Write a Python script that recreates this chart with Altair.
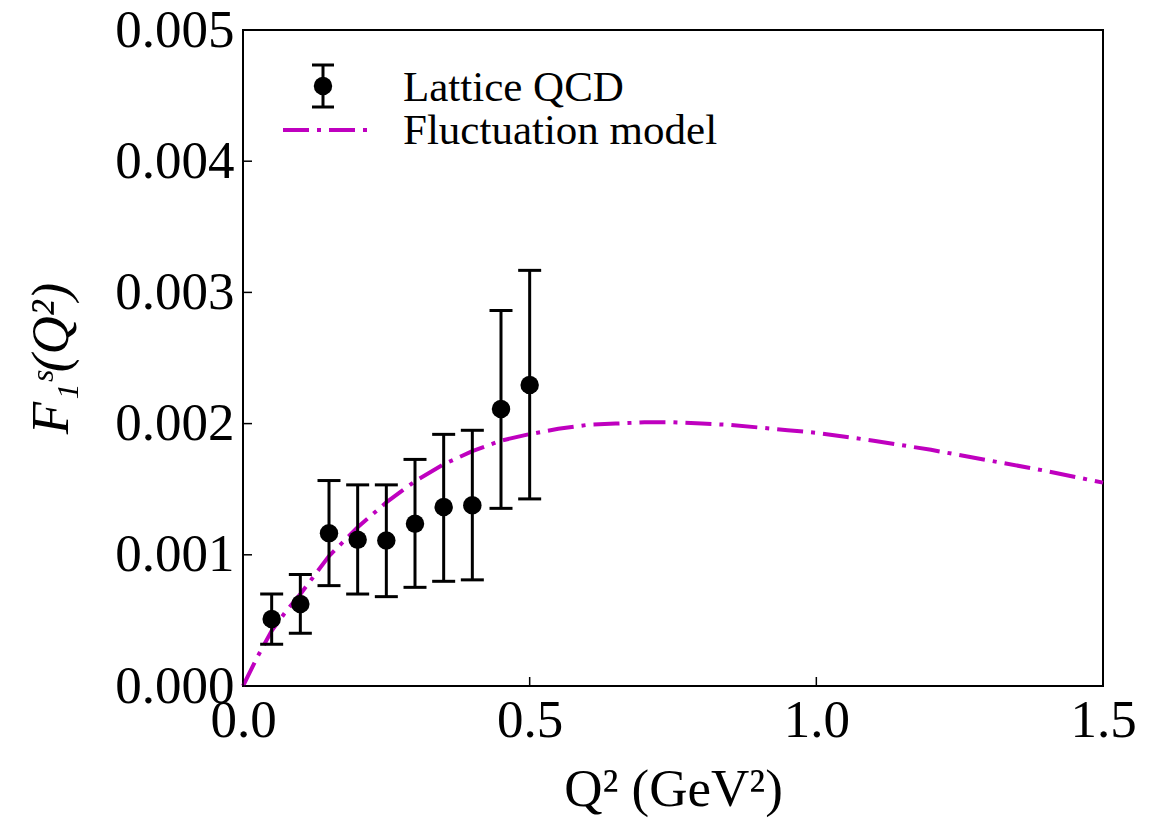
import altair as alt
import pandas as pd

# Lattice QCD data
q2_lat = [0.05, 0.10, 0.15, 0.20, 0.25, 0.30, 0.35, 0.40, 0.45, 0.50]
f_lat = [0.000510, 0.000625, 0.001165, 0.001115, 0.001109, 0.001237, 0.001364, 0.001377, 0.002112, 0.002295]
f_lo = [0.000319, 0.000403, 0.000765, 0.000701, 0.000681, 0.000752, 0.000798, 0.000809, 0.001354, 0.001426]
f_hi = [0.000701, 0.000849, 0.001566, 0.001533, 0.001533, 0.001727, 0.001918, 0.001949, 0.002862, 0.003168]

# Fluctuation model curve
q2_mod = [0.0, 0.025, 0.05, 0.075, 0.10, 0.15, 0.20, 0.25, 0.30, 0.35, 0.40, 0.45, 0.50,
          0.55, 0.60, 0.65, 0.70, 0.75, 0.80, 0.85, 0.90, 0.95, 1.00, 1.10, 1.20, 1.30, 1.40, 1.50]
f_mod = [0.0, 0.00022, 0.00042, 0.00057, 0.00070, 0.00099, 0.00121, 0.00140, 0.00156, 0.00169,
         0.00179, 0.00187, 0.00192, 0.00196, 0.00199, 0.00200, 0.00201, 0.00201, 0.00200,
         0.00199, 0.00197, 0.00195, 0.00193, 0.00187, 0.00180, 0.00172, 0.00164, 0.00155]

x_ticks = [0.0, 0.5, 1.0, 1.5]
y_ticks = [0.0, 0.001, 0.002, 0.003, 0.004, 0.005]

FONT = "Liberation Serif"
MAG = "#bf00bf"
W, H = 860, 656

lat = pd.DataFrame({"q2": q2_lat, "f": f_lat, "lo": f_lo, "hi": f_hi})
mod = pd.DataFrame({"q2": q2_mod, "f": f_mod})

xs = alt.Scale(domain=[0, 1.5], nice=False, zero=False)
ys = alt.Scale(domain=[0, 0.005], nice=False, zero=False)

xax = alt.Axis(values=x_ticks, format=".1f", tickSize=0, domain=False, grid=False,
               labelFont=FONT, labelFontSize=53, labelColor="black", labelPadding=8,
               title="Q² (GeV²)", titleFont=FONT, titleFontSize=53, titleFontWeight="normal",
               titleColor="black", titlePadding=16, labelFlush=False)
yax = alt.Axis(values=y_ticks, format=".3f", tickSize=0, domain=False, grid=False,
               labelFont=FONT, labelFontSize=53, labelColor="black", labelPadding=9,
               title="F₁ˢ(Q²)", titleFont=FONT, titleFontSize=53, titleFontWeight="normal",
               titleFontStyle="italic", titleColor="black", titlePadding=36, labelFlush=False)

base_x = alt.X("q2:Q", scale=xs, axis=xax)
base_y = alt.Y("f:Q", scale=ys, axis=yax)

curve = alt.Chart(mod).mark_line(color=MAG, strokeWidth=4, strokeDash=[26, 8, 4, 8]).encode(
    x=base_x, y=base_y)

err = alt.Chart(lat).mark_rule(color="black", strokeWidth=3).encode(
    x=alt.X("q2:Q", scale=xs), y=alt.Y("lo:Q", scale=ys), y2="hi:Q")
cap_lo = alt.Chart(lat).mark_tick(color="black", thickness=3, size=23, orient="horizontal", opacity=1).encode(
    x=alt.X("q2:Q", scale=xs), y=alt.Y("lo:Q", scale=ys))
cap_hi = alt.Chart(lat).mark_tick(color="black", thickness=3, size=23, orient="horizontal", opacity=1).encode(
    x=alt.X("q2:Q", scale=xs), y=alt.Y("hi:Q", scale=ys))
pts = alt.Chart(lat).mark_circle(color="black", size=340, opacity=1).encode(
    x=alt.X("q2:Q", scale=xs), y=alt.Y("f:Q", scale=ys))

# inward ticks
xt = pd.DataFrame({"t": x_ticks})
yt = pd.DataFrame({"t": y_ticks})
xtick_b = alt.Chart(xt).mark_tick(color="black", thickness=1.5, size=9, orient="vertical", opacity=1).encode(
    x=alt.X("t:Q", scale=xs), y=alt.value(H - 4.5))
ytick_l = alt.Chart(yt).mark_tick(color="black", thickness=1.5, size=9, orient="horizontal", opacity=1).encode(
    y=alt.Y("t:Q", scale=ys), x=alt.value(4.5))

# legend
one = pd.DataFrame({"a": [0]})
leg_err = alt.Chart(one).mark_rule(color="black", strokeWidth=3).encode(
    x=alt.value(80), y=alt.value(35), y2=alt.value(77))
leg_cap1 = alt.Chart(one).mark_rule(color="black", strokeWidth=3).encode(
    x=alt.value(69), x2=alt.value(91), y=alt.value(35))
leg_cap2 = alt.Chart(one).mark_rule(color="black", strokeWidth=3).encode(
    x=alt.value(69), x2=alt.value(91), y=alt.value(77))
leg_pt = alt.Chart(one).mark_circle(color="black", size=340, opacity=1).encode(
    x=alt.value(80), y=alt.value(56))
leg_line = alt.Chart(one).mark_rule(color=MAG, strokeWidth=4, strokeDash=[26, 8, 4, 8]).encode(
    x=alt.value(40), x2=alt.value(126), y=alt.value(100))
leg_t1 = alt.Chart(one).mark_text(text="Lattice QCD", font=FONT, fontSize=43, align="left",
                                  baseline="middle", color="black").encode(
    x=alt.value(160), y=alt.value(58))
leg_t2 = alt.Chart(one).mark_text(text="Fluctuation model", font=FONT, fontSize=43, align="left",
                                  baseline="middle", color="black").encode(
    x=alt.value(160), y=alt.value(101))

chart = alt.layer(
    curve, err, cap_lo, cap_hi, pts, xtick_b, ytick_l,
    leg_err, leg_cap1, leg_cap2, leg_pt, leg_line, leg_t1, leg_t2
).properties(
    width=W, height=H,
    padding={"left": 243, "top": 30, "right": 59, "bottom": 132},
    autosize=alt.AutoSizeParams(type="none"),
    background="white",
).configure_view(stroke="black", strokeWidth=2)

chart.save("out.html", embed_options={"renderer": "svg", "actions": False})
